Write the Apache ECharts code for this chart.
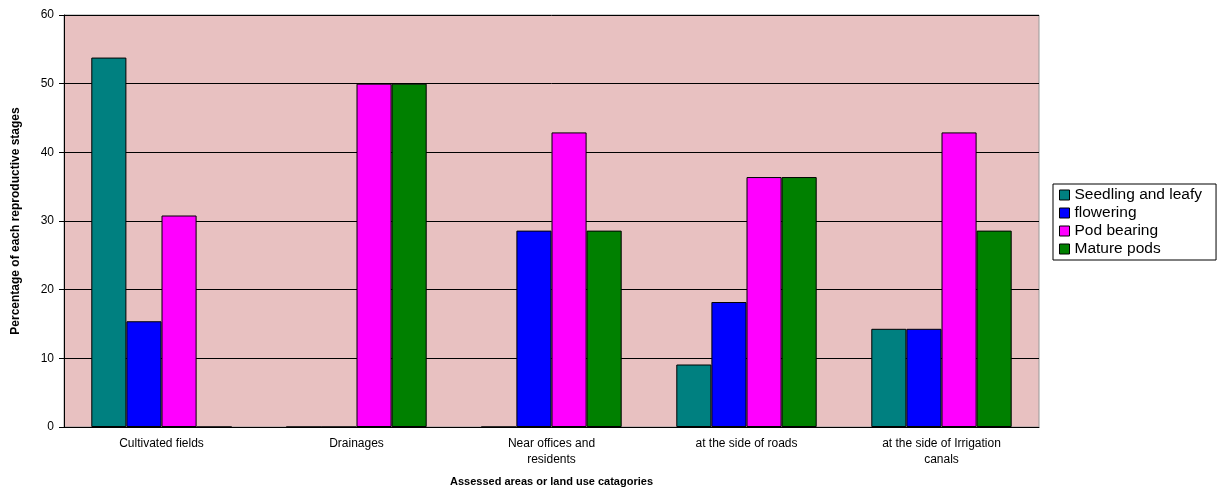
<!DOCTYPE html>
<html>
<head>
<meta charset="utf-8">
<script src="https://cdn.jsdelivr.net/npm/echarts@6/dist/echarts.min.js"></script>
<style>
    html, body { margin: 0; padding: 0; background: #fff; }
    #main { width: 1219px; height: 490px; }
</style>
</head>
<body>
<div id="main"></div>
<script>
var categories = ['Cultivated fields', 'Drainages', 'Near offices and\nresidents', 'at the side of roads', 'at the side of Irrigation\ncanals'];
var seedling = [53.8, 0, 0, 9.1, 14.3];
var flowering = [15.4, 0, 28.6, 18.2, 14.3];
var podBearing = [30.8, 50, 42.9, 36.4, 42.9];
var maturePods = [0, 50, 28.6, 36.4, 28.6];

function bar (name, color, data) {
    return {
        name: name,
        type: 'bar',
        data: data,
        barGap: '0%',
        barCategoryGap: '28%',
        itemStyle: { color: color, borderColor: '#000', borderWidth: 1 }
    };
}

var myChart = echarts.init(document.getElementById('main'));
myChart.setOption({
    animation: false,
    textStyle: { fontFamily: 'Liberation Sans, Arial, sans-serif' },
    grid: {
        left: 64, right: 180, top: 15, bottom: 63,
        outerBoundsMode: 'none',
        containLabel: false,
        backgroundColor: '#e8c1c1', show: true, borderColor: '#999', borderWidth: 1
    },
    legend: {
        orient: 'vertical',
        left: 1053,
        top: 184,
        itemWidth: 10,
        itemHeight: 10,
        itemGap: 2,
        padding: [3, 14, 3, 6],
        borderColor: '#000',
        borderWidth: 1,
        icon: 'rect',
        textStyle: { fontSize: 15.5, lineHeight: 16, color: '#000', padding: [0, 0, 0, 0] },
        itemStyle: { borderColor: '#000', borderWidth: 1 }
    },
    xAxis: {
        type: 'category',
        data: categories,
        name: 'Assessed areas or land use catagories',
        nameLocation: 'middle',
        nameGap: 49,
        nameTextStyle: { fontWeight: 'bold', fontSize: 11, color: '#000' },
        axisLine: { lineStyle: { color: '#000' } },
        axisTick: { lineStyle: { color: '#000' }, length: 5 },
        axisLabel: { color: '#000', fontSize: 12, lineHeight: 16, margin: 9 }
    },
    yAxis: {
        type: 'value',
        min: 0,
        max: 60,
        interval: 10,
        name: 'Percentage of each reproductive stages',
        nameLocation: 'middle',
        nameGap: 42,
        nameTextStyle: { fontWeight: 'bold', fontSize: 12, color: '#000', fontFamily: 'Liberation Sans Narrow, Arial Narrow, sans-serif' },
        axisLine: { show: true, lineStyle: { color: '#000' } },
        axisTick: { show: true, inside: false, length: 5, lineStyle: { color: '#000' } },
        axisLabel: { color: '#000', fontSize: 12, margin: 10 },
        splitLine: { lineStyle: { color: '#000', width: 1 } }
    },
    series: [
        bar('Seedling and leafy', '#008080', seedling),
        bar('flowering', '#0000ff', flowering),
        bar('Pod bearing', '#ff00ff', podBearing),
        bar('Mature pods', '#008000', maturePods)
    ]
});
</script>
</body>
</html>
